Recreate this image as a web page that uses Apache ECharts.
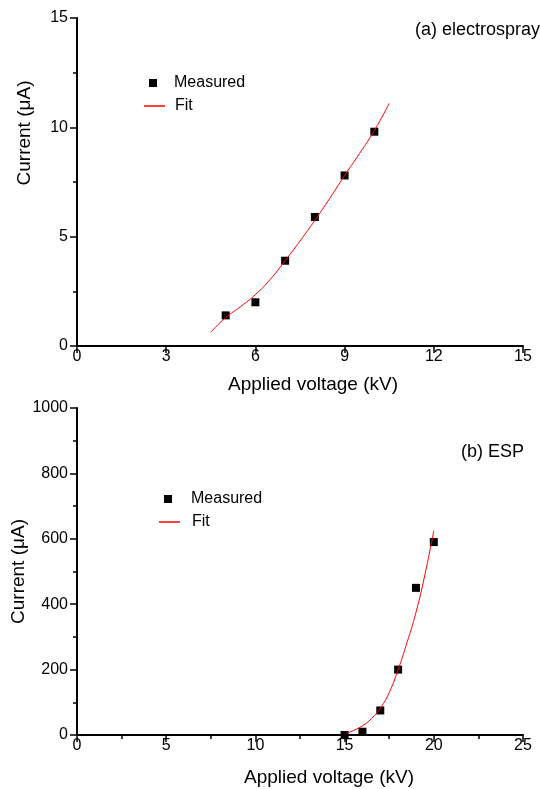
<!DOCTYPE html>
<html>
<head>
<meta charset="utf-8">
<script src="https://cdn.jsdelivr.net/npm/echarts@6/dist/echarts.min.js"></script>
<style>
  html, body { margin: 0; padding: 0; background: #fff; }
  #chart { width: 540px; height: 789px; }
</style>
</head>
<body>
<div id="chart"></div>
<script>
var chart = echarts.init(document.getElementById('chart'));
var FONT = "'Liberation Sans', Arial, sans-serif";

// (a) electrospray
var esVoltage = [5, 6, 7, 8, 9, 10];
var esCurrent = [1.4, 2.0, 3.9, 5.9, 7.8, 9.8];
var esFitVoltage = [4.5, 5, 5.5, 6, 6.5, 7, 7.5, 8, 8.5, 9, 9.5, 10, 10.5];
var esFitCurrent = [0.63, 1.3, 1.8, 2.35, 3.05, 3.9, 4.8, 5.75, 6.75, 7.8, 8.8, 9.85, 11.1];

// (b) ESP
var espVoltage = [15, 16, 17, 18, 19, 20];
var espCurrent = [0, 10, 75, 200, 450, 590];
var espFitVoltage = [15.1, 15.5, 16, 16.5, 17, 17.5, 18, 18.5, 19, 19.5, 20];
var espFitCurrent = [5, 14, 28, 50, 82, 130, 200, 283, 375, 490, 625];

function pairs(xs, ys) {
    var out = [];
    for (var i = 0; i < xs.length; i++) out.push([xs[i], ys[i]]);
    return out;
}

function axisLine() {
    return { show: true, onZero: false, lineStyle: { color: '#000', width: 2 } };
}
function tick(len) {
    return { show: true, inside: false, length: len, lineStyle: { color: '#000', width: 1.5 } };
}
function minor(on) {
    return { show: on, splitNumber: 2, length: 4, lineStyle: { color: '#000', width: 1.5 } };
}
var labelStyle = { color: '#000', fontSize: 16, fontFamily: FONT, formatter: function (v) { return String(v); } };
var nameStyle = { color: '#000', fontSize: 19, fontFamily: FONT };
var legendText = { color: '#000', fontSize: 16, fontFamily: FONT, lineHeight: 18 };
var noteStyle = { fontSize: 18, fontWeight: 'normal', color: '#000', fontFamily: FONT };

var option = {
    animation: false,
    backgroundColor: '#fff',
    title: [
        { text: '(a) electrospray', left: 415, top: 21, padding: 0, textStyle: noteStyle },
        { text: '(b) ESP', left: 461, top: 443, padding: 0, textStyle: noteStyle }
    ],
    legend: [
        { data: [{ name: 'Measured', icon: 'rect' }], left: 149, top: 74, padding: 0,
          itemWidth: 8, itemHeight: 8, textStyle: Object.assign({ padding: [0, 0, 0, 12] }, legendText) },
        { data: [{ name: 'Fit', icon: 'rect' }], left: 144, top: 97, padding: 0,
          itemWidth: 21, itemHeight: 1.5, textStyle: Object.assign({ padding: [0, 0, 0, 5] }, legendText) },
        { data: [{ name: 'Measured', icon: 'rect' }], left: 164, top: 490, padding: 0,
          itemWidth: 8, itemHeight: 8, textStyle: Object.assign({ padding: [0, 0, 0, 14] }, legendText) },
        { data: [{ name: 'Fit', icon: 'rect' }], left: 159, top: 513, padding: 0,
          itemWidth: 21, itemHeight: 1.5, textStyle: Object.assign({ padding: [0, 0, 0, 7] }, legendText) }
    ],
    grid: [
        { left: 77, top: 18, width: 446, height: 328, outerBoundsMode: 'none', containLabel: false },
        { left: 77, top: 408, width: 446, height: 327, outerBoundsMode: 'none', containLabel: false }
    ],
    xAxis: [
        { gridIndex: 0, type: 'value', min: 0, max: 15, interval: 3,
          name: 'Applied voltage (kV)', nameLocation: 'middle', nameGap: 29,
          nameTextStyle: Object.assign({ padding: [0, 0, 0, 26] }, nameStyle),
          axisLine: axisLine(), axisTick: tick(7), minorTick: minor(false),
          axisLabel: Object.assign({ margin: 3 }, labelStyle), splitLine: { show: false } },
        { gridIndex: 1, type: 'value', min: 0, max: 25, interval: 5,
          name: 'Applied voltage (kV)', nameLocation: 'middle', nameGap: 33,
          nameTextStyle: Object.assign({ padding: [0, 0, 0, 58] }, nameStyle),
          axisLine: axisLine(), axisTick: tick(7), minorTick: minor(true),
          axisLabel: Object.assign({ margin: 3 }, labelStyle), splitLine: { show: false } }
    ],
    yAxis: [
        { gridIndex: 0, type: 'value', min: 0, max: 15, interval: 5,
          name: 'Current (\u03bcA)', nameLocation: 'middle', nameGap: 43, nameRotate: 90,
          nameTextStyle: Object.assign({ padding: [0, 0, 0, 98] }, nameStyle),
          axisLine: axisLine(), axisTick: tick(7), minorTick: minor(true),
          axisLabel: Object.assign({ margin: 9 }, labelStyle), splitLine: { show: false } },
        { gridIndex: 1, type: 'value', min: 0, max: 1000, interval: 200,
          name: 'Current (\u03bcA)', nameLocation: 'middle', nameGap: 49, nameRotate: 90,
          nameMoveOverlap: false,
          nameTextStyle: nameStyle,
          axisLine: axisLine(), axisTick: tick(7), minorTick: minor(true),
          axisLabel: Object.assign({ margin: 9 }, labelStyle), splitLine: { show: false } }
    ],
    series: [
        { name: 'Fit', type: 'line', xAxisIndex: 0, yAxisIndex: 0, smooth: true,
          showSymbol: false, color: '#ff0000', lineStyle: { color: '#ff0000', width: 1 },
          data: pairs(esFitVoltage, esFitCurrent) },
        { name: 'Measured', type: 'scatter', xAxisIndex: 0, yAxisIndex: 0,
          symbol: 'rect', symbolSize: 8, itemStyle: { color: '#000', opacity: 1 },
          data: pairs(esVoltage, esCurrent) },
        { name: 'Fit', type: 'line', xAxisIndex: 1, yAxisIndex: 1, smooth: true,
          showSymbol: false, color: '#ff0000', lineStyle: { color: '#ff0000', width: 1 },
          data: pairs(espFitVoltage, espFitCurrent) },
        { name: 'Measured', type: 'scatter', xAxisIndex: 1, yAxisIndex: 1,
          symbol: 'rect', symbolSize: 8, itemStyle: { color: '#000', opacity: 1 },
          data: pairs(espVoltage, espCurrent) }
    ]
};
chart.setOption(option);
</script>
</body>
</html>
